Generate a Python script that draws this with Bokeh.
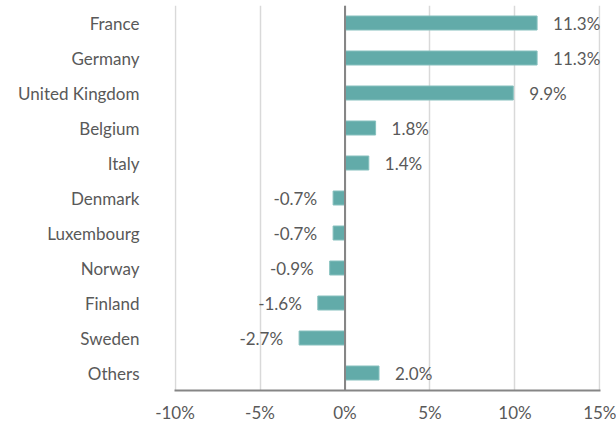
from bokeh.plotting import figure
from bokeh.models import ColumnDataSource, Range1d, FixedTicker, Span
from bokeh.core.properties import value
from bokeh.embed import file_html
from bokeh.resources import INLINE

countries = ["France", "Germany", "United Kingdom", "Belgium", "Italy", "Denmark",
             "Luxembourg", "Norway", "Finland", "Sweden", "Others"]
growth = [11.3, 11.3, 9.9, 1.8, 1.4, -0.7, -0.7, -0.9, -1.6, -2.7, 2.0]
x_ticks = [-10, -5, 0, 5, 10, 15]
x_tick_labels = ["-10%", "-5%", "0%", "5%", "10%", "15%"]

FONT = "Lato"
TXT = "#595959"
BAR = "#62aba9"

idx = list(range(len(countries)))
src = ColumnDataSource(dict(y=idx, v=growth))
pos_i = [i for i in idx if growth[i] >= 0]
neg_i = [i for i in idx if growth[i] < 0]
pos = ColumnDataSource(dict(y=pos_i, v=[growth[i] for i in pos_i],
                            lab=[f"{growth[i]:.1f}%" for i in pos_i]))
neg = ColumnDataSource(dict(y=neg_i, v=[growth[i] for i in neg_i],
                            lab=[f"{growth[i]:.1f}%" for i in neg_i]))

p = figure(width=616, height=425, output_backend="svg", toolbar_location=None,
           x_range=Range1d(-10.03, 15.03), y_range=Range1d(start=10.5, end=-0.5),
           min_border_left=174, min_border_right=16, min_border_top=5, min_border_bottom=35)
p.outline_line_color = None
p.background_fill_color = "white"
p.border_fill_color = "white"

p.xgrid.ticker = FixedTicker(ticks=x_ticks)
p.xgrid.grid_line_color = "#d9d9d9"
p.xgrid.grid_line_width = 1.5
p.ygrid.grid_line_color = None

p.hbar(y="y", left=0, right="v", height=0.4, source=src,
       fill_color=BAR, line_color="#86c0be", line_width=1)

p.add_layout(Span(location=0, dimension="height", line_color="#868686", line_width=2))

p.text(x="v", y="y", text="lab", source=pos, x_offset=16, text_align="left",
       text_baseline="middle", text_font=value(FONT), text_font_size="17px", text_color=TXT)
p.text(x="v", y="y", text="lab", source=neg, x_offset=-16, text_align="right",
       text_baseline="middle", text_font=value(FONT), text_font_size="17px", text_color=TXT)

xa = p.xaxis[0]
xa.ticker = FixedTicker(ticks=x_ticks)
xa.major_label_overrides = {t: l for t, l in zip(x_ticks, x_tick_labels)}
xa.axis_line_color = "#868686"
xa.axis_line_width = 2
xa.major_tick_line_color = None
xa.major_tick_out = 0
xa.major_tick_in = 0
xa.minor_tick_line_color = None
xa.minor_tick_out = 0
xa.major_label_standoff = 11
xa.major_label_text_font = FONT
xa.major_label_text_font_size = "17px"
xa.major_label_text_color = TXT

ya = p.yaxis[0]
ya.ticker = FixedTicker(ticks=idx)
ya.major_label_overrides = {i: c for i, c in zip(idx, countries)}
ya.axis_line_color = None
ya.major_tick_line_color = None
ya.major_tick_out = 0
ya.major_tick_in = 0
ya.minor_tick_line_color = None
ya.minor_tick_out = 0
ya.major_label_standoff = 35
ya.major_label_text_font = FONT
ya.major_label_text_font_size = "17px"
ya.major_label_text_color = TXT

open("out.html", "w").write(file_html(p, INLINE))
